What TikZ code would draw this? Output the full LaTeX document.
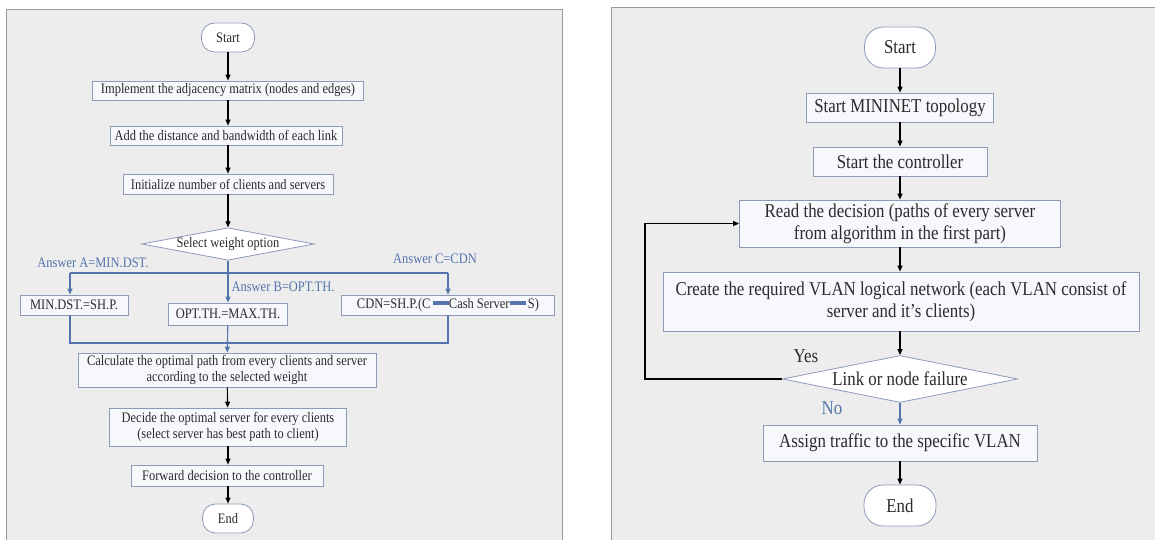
\documentclass[tikz,border=0pt]{standalone}
\usepackage{fontspec}
\setmainfont[FakeStretch=0.86]{Liberation Serif}
\usetikzlibrary{shapes.geometric,arrows.meta}
\definecolor{panelfill}{HTML}{EDEDED}
\definecolor{panelline}{HTML}{9A9A9A}
\definecolor{boxline}{HTML}{8C9AB8}
\definecolor{boxfill}{HTML}{F6F8FC}
\definecolor{lineblue}{HTML}{5374AC}
\definecolor{textdark}{HTML}{2B2B2B}
\begin{document}
\begin{tikzpicture}[x=1pt,y=-1pt,
    box/.style={rectangle,draw=boxline,fill=boxfill,line width=0.8pt,inner sep=1pt,align=center,text=textdark},
    pill/.style={rectangle,rounded corners=13pt,draw=boxline,fill=white,line width=0.8pt,inner sep=0pt,text=textdark},
    choice/.style={diamond,draw=boxline,fill=white,line width=0.8pt,inner sep=0pt,text=textdark},
    small/.style={font=\fontsize{14.5}{16}\selectfont},
    big/.style={font=\fontsize{19.6}{22}\selectfont},
    flow/.style={-{Triangle[length=6pt,width=5pt]},line width=1.1pt,draw=black},
    blueflow/.style={-{Triangle[length=6pt,width=5pt]},line width=1.1pt,draw=lineblue},
    blueline/.style={line width=1.1pt,draw=lineblue}]
    \useasboundingbox (0,0) rectangle (1155,540);
    % panels
    \draw[panelline,fill=panelfill,line width=0.9pt] (6,545) -- (6,9) -- (562,9) -- (562,545);
    \draw[panelline,fill=panelfill,line width=0.9pt] (611,545) -- (611,7) -- (1160,7) -- (1160,545);

    % left flowchart
    \node[pill,small,minimum width=53pt,minimum height=29pt] (start1) at (228,37.5) {Start} ;
    \node[box,small,minimum width=271pt,minimum height=19pt] (impl) at (228,90.5) {Implement the adjacency matrix (nodes and edges)} ;
    \node[box,small,minimum width=232pt,minimum height=19pt] (addlink) at (226,135.5) {Add the distance and bandwidth of each link} ;
    \node[box,small,minimum width=210pt,minimum height=20pt] (init) at (228,184) {Initialize number of clients and servers} ;
    \node[choice,small,aspect=5.3,minimum width=171pt,minimum height=32pt] (weight) at (228,244) {Select weight option} ;
    \node[box,small,minimum width=108pt,minimum height=20pt] (minb) at (74,305) {MIN.DST.=SH.P.} ;
    \node[box,small,minimum width=119pt,minimum height=22pt] (optb) at (228,314) {OPT.TH.=MAX.TH.} ;
    \node[box,small,minimum width=213pt,minimum height=20pt] (cdnb) at (448,305) {CDN=SH.P.(C\,\textcolor{lineblue}{\rule[0.25em]{16pt}{3.5pt}}Cash Server\textcolor{lineblue}{\rule[0.25em]{16pt}{3.5pt}}\,S)} ;
    \node[box,small,minimum width=298pt,minimum height=34pt] (calc) at (227,370) {Calculate the optimal path from every clients and server\\according to the selected weight} ;
    \node[box,small,minimum width=237pt,minimum height=38pt] (decide) at (228,427) {Decide the optimal server for every clients\\(select server has best path to client)} ;
    \node[box,small,minimum width=192pt,minimum height=21pt] (fwd) at (227,475.5) {Forward decision to the controller} ;
    \node[pill,small,minimum width=51pt,minimum height=29pt] (end1) at (228,518.5) {End} ;

    \node[small,text=lineblue] (ansA) at (93,263) {Answer A=MIN.DST.} ;
    \node[small,text=lineblue] (ansB) at (283,287) {Answer B=OPT.TH.} ;
    \node[small,text=lineblue] (ansC) at (435,259) {Answer C=CDN} ;

    \coordinate (brA) at (70,273) ;
    \coordinate (brC) at (448,273) ;
    \coordinate (mgA) at (70,343) ;
    \coordinate (mgC) at (448,343) ;

    \draw[flow] (start1) -- (impl) ;
    \draw[flow] (impl) -- (addlink.north -| impl.south) ;
    \draw[flow] (addlink.south -| impl.south) -- (init.north -| impl.south) ;
    \draw[flow] (init) -- (weight) ;
    \draw[blueflow] (weight) -- (optb) ;
    \draw[blueline] (brA) -- (brC) ;
    \draw[blueflow] (brA) -- (brA |- minb.north) ;
    \draw[blueflow] (brC) -- (cdnb.north) ;
    \draw[blueline] (brA |- minb.south) -- (mgA) -- (mgC) -- (cdnb.south) ;
    \draw[blueflow] (optb) -- (calc) ;
    \draw[flow] (calc) -- (decide) ;
    \draw[flow] (decide) -- (fwd.north -| decide.south) ;
    \draw[flow] (fwd.south -| end1.north) -- (end1) ;

    % right flowchart
    \node[pill,big,rounded corners=19pt,minimum width=71pt,minimum height=41pt] (start2) at (900,47.5) {Start} ;
    \node[box,big,minimum width=187pt,minimum height=29pt] (mininet) at (900,107.5) {Start MININET topology} ;
    \node[box,big,minimum width=174pt,minimum height=29pt] (ctrl) at (900,161.5) {Start the controller} ;
    \node[box,big,minimum width=321pt,minimum height=47pt] (readdec) at (900,223.5) {Read the decision (paths of every server\\from algorithm in the first part)} ;
    \node[box,big,minimum width=476pt,minimum height=59pt] (vlan) at (901,301.5) {Create the required VLAN logical network (each VLAN consist of\\server and it’s clients)} ;
    \node[choice,big,aspect=5,minimum width=235pt,minimum height=47pt] (fail) at (900,379) {Link or node failure} ;
    \node[box,big,minimum width=274pt,minimum height=36pt] (assign) at (900,443) {Assign traffic to the specific VLAN} ;
    \node[pill,big,rounded corners=19pt,minimum width=72pt,minimum height=41pt] (end2) at (900,505.5) {End} ;

    \node[big,text=textdark] (yes) at (806,356) {Yes} ;
    \node[big,text=lineblue] (no) at (832,408) {No} ;
    \coordinate (loop) at (645,379) ;

    \draw[flow] (start2) -- (mininet) ;
    \draw[flow] (mininet) -- (ctrl) ;
    \draw[flow] (ctrl) -- (readdec) ;
    \draw[flow] (readdec) -- (vlan.north -| readdec.south) ;
    \draw[flow] (vlan.south -| fail.north) -- (fail) ;
    \draw[blueflow] (fail) -- (assign) ;
    \draw[flow] (assign) -- (end2) ;
    \draw[flow] (fail.west) -- (loop) |- (readdec.west) ;
\end{tikzpicture}
\end{document}
